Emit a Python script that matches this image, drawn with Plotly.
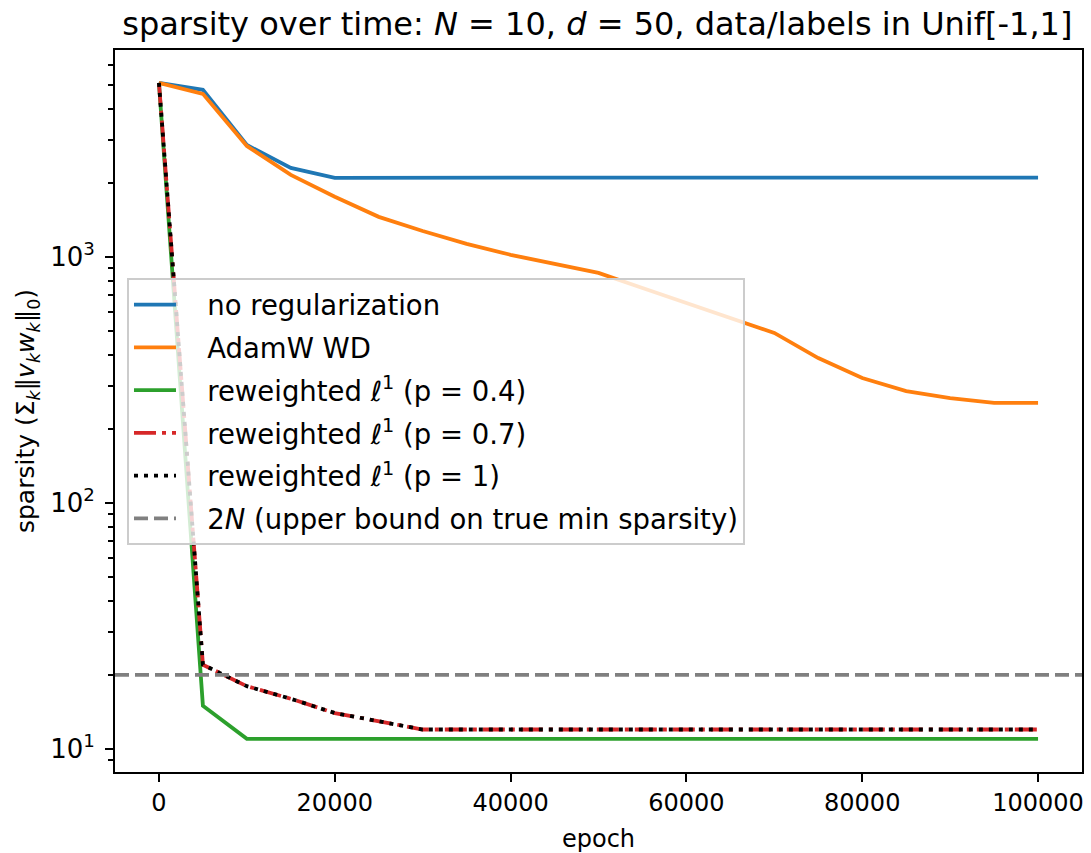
import plotly.graph_objects as go

# ---- data ----
epochs = [0, 5000, 10000, 15000, 20000, 25000, 30000, 35000, 40000, 45000, 50000,
          55000, 60000, 65000, 70000, 75000, 80000, 85000, 90000, 95000, 100000]

no_reg = [5100, 4775, 2850, 2300, 2095, 2100, 2100, 2100, 2100, 2100, 2100,
          2100, 2100, 2100, 2100, 2100, 2100, 2100, 2100, 2100, 2100]
adamw_wd = [5100, 4600, 2825, 2155, 1755, 1455, 1275, 1130, 1020, 937, 861,
            748, 650, 565, 491, 388, 322, 285, 267, 255, 255]
rw_p04 = [5100, 15, 11, 11, 11, 11, 11, 11, 11, 11, 11,
          11, 11, 11, 11, 11, 11, 11, 11, 11, 11]
rw_p07 = [5100, 22, 18, 16, 14, 13, 12, 12, 12, 12, 12,
          12, 12, 12, 12, 12, 12, 12, 12, 12, 12]
rw_p1 = [5100, 22, 18, 16, 14, 13, 12, 12, 12, 12, 12,
         12, 12, 12, 12, 12, 12, 12, 12, 12, 12]
N = 10
d = 50

series_names = [
    "no regularization",
    "AdamW WD",
    "reweighted <i>ℓ</i><sup>1</sup> (p = 0.4)",
    "reweighted <i>ℓ</i><sup>1</sup> (p = 0.7)",
    "reweighted <i>ℓ</i><sup>1</sup> (p = 1)",
]
bound_name = "2<i>N</i> (upper bound on true min sparsity)"

y_tick_vals = [10, 100, 1000]
y_tick_text = ["10<sup>1</sup>", "10<sup>2</sup>", "10<sup>3</sup>"]

x_range = [-5000, 105000]
y_range_log = [0.9065, 3.841]

# ---- styles ----
LW = 3.8
FONT = "DejaVu Sans"
PAD = "\u00a0\u00a0\u00a0"  # gap between legend sample line and label
styles = [
    dict(color="#1f77b4", width=LW, dash="solid"),
    dict(color="#ff7f0e", width=LW, dash="solid"),
    dict(color="#2ca02c", width=LW, dash="solid"),
    dict(color="#d62728", width=LW, dash="22px,6px,4px,6px"),
    dict(color="#000000", width=LW, dash="4px,6px"),
]

fig = go.Figure()
for i, (name, ys, st) in enumerate(zip(series_names, [no_reg, adamw_wd, rw_p04, rw_p07, rw_p1], styles)):
    fig.add_trace(go.Scatter(x=epochs, y=ys, mode="lines", name=PAD + name, line=st,
                             legendgroup=f"g{i}"))

# horizontal bound line (legend entry + full-width shape)
bound_line = dict(color="#808080", width=LW, dash="14px,6px")
fig.add_trace(go.Scatter(x=[None], y=[None], mode="lines", name=PAD + bound_name, line=bound_line,
                         legendgroup="g5"))
fig.add_hline(y=2 * N, line=bound_line, layer="above")

minor_vals = [m * 10 ** k for k in range(0, 4) for m in range(2, 10)]

fig.update_layout(
    width=1091, height=853,
    margin=dict(l=115, r=9, t=50, b=81, autoexpand=False),
    paper_bgcolor="white", plot_bgcolor="white",
    font=dict(family=FONT, size=23, color="black"),
    title=dict(
        text=f"sparsity over time: <i>N</i> = {N}, <i>d</i> = {d}, data/labels in Unif[-1,1]",
        x=0.5475, xanchor="center", y=1 - 24 / 853, yanchor="middle",
        font=dict(family=FONT, size=32, color="black"),
    ),
    showlegend=True,
    legend=dict(
        x=0.0124, y=0.684, xanchor="left", yanchor="top",
        bgcolor="rgba(255,255,255,0.8)", bordercolor="#cccccc", borderwidth=2,
        font=dict(family=FONT, size=27.5, color="black"),
        itemwidth=42, tracegroupgap=4, traceorder="grouped",
    ),
)

fig.update_xaxes(
    range=x_range, tick0=0, dtick=20000, tickformat="d", automargin=False,
    showgrid=False, zeroline=False,
    showline=True, linecolor="black", linewidth=2, mirror=True,
    ticks="outside", ticklen=8, tickwidth=2, tickcolor="black",
    tickfont=dict(family=FONT, size=24),
    title=dict(text="epoch", font=dict(family=FONT, size=24), standoff=16),
)
fig.update_yaxes(
    type="log", range=y_range_log, tickvals=y_tick_vals, ticktext=y_tick_text,
    automargin=False, ticklabelstandoff=5,
    showgrid=False, zeroline=False,
    showline=True, linecolor="black", linewidth=2, mirror=True,
    ticks="outside", ticklen=8, tickwidth=2, tickcolor="black",
    tickfont=dict(family=FONT, size=26),
    minor=dict(tickvals=minor_vals, ticks="outside", ticklen=5, tickwidth=1.5,
               tickcolor="black", showgrid=False),
    title=dict(text="sparsity (Σ<sub><i>k</i></sub>‖<i>v<sub>k</sub>w<sub>k</sub></i>‖<sub>0</sub>)",
               font=dict(family=FONT, size=25), standoff=8),
)

fig.write_html(
    "out.html",
    config={"displayModeBar": False},
    post_script="document.body.style.margin='0';document.body.style.overflow='hidden';",
)
